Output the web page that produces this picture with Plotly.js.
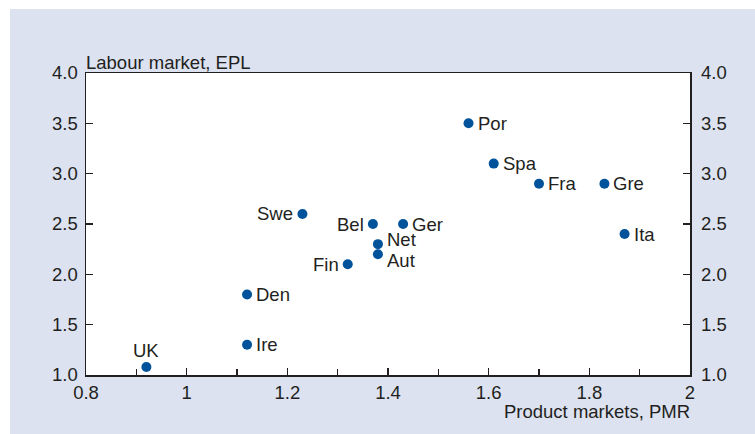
<!DOCTYPE html>
<html>
<head>
<meta charset="utf-8">
<script src="https://cdn.plot.ly/plotly-3.0.1.min.js"></script>
<style>
html,body{margin:0;padding:0;background:#ffffff;width:755px;height:434px;overflow:hidden;}
#chart{position:absolute;left:10px;top:9px;width:745px;height:425px;background:rgb(220,226,240);}
</style>
</head>
<body>
<div id="chart"></div>
<script>
const countries = ["Por","Spa","Fra","Gre","Ita","Swe","Bel","Ger","Net","Aut","Fin","Den","Ire","UK"];
const pmr = [1.56,1.61,1.70,1.83,1.87,1.23,1.37,1.43,1.38,1.38,1.32,1.12,1.12,0.92];
const epl = [3.5,3.1,2.9,2.9,2.4,2.6,2.5,2.5,2.3,2.2,2.1,1.8,1.3,1.08];
// label placement: side (r = right, l = left, t = top) and small vertical nudge (px)
const labelSide = ["r","r","r","r","r","l","l","r","r","r","l","r","r","t"];
const labelNudge = [0,0,0,0,0,0,0,0,5,-6,0,0,0,0];
const xTitle = "Product markets, PMR";
const yTitle = "Labour market, EPL";

const txt = '#231f20';
const fnt = {family:'"Liberation Sans", Arial, sans-serif', size:18.5, color:txt};

const trace = {
  x: pmr, y: epl, mode: 'markers', type: 'scatter',
  marker: {color:'#00539b', size:10},
  cliponaxis:false, hoverinfo:'skip', showlegend:false
};

const labelAnns = countries.map((c, i) => {
  const s = labelSide[i];
  return {
    text: c, x: pmr[i], y: epl[i], xref:'x', yref:'y', showarrow:false, font: fnt, borderpad:0,
    xanchor: s === 'r' ? 'left' : (s === 'l' ? 'right' : 'center'),
    yanchor: 'middle',
    xshift: s === 'r' ? 8 : (s === 'l' ? -8 : 0),
    yshift: s === 't' ? 16 : labelNudge[i]
  };
});

const layout = {
  width:745, height:425,
  paper_bgcolor:'rgba(0,0,0,0)', plot_bgcolor:'#ffffff',
  margin:{l:76, r:65, t:64, b:59},
  font: fnt,
  xaxis:{range:[0.8,2], dtick:0.2, tick0:0.8, ticks:'inside', ticklen:7, tickwidth:1.5, tickcolor:txt,
    showline:true, linecolor:txt, linewidth:1.5, mirror:true, showgrid:false, zeroline:false,
    minor:{dtick:0.1, ticks:'inside', ticklen:6, tickwidth:1.5, tickcolor:txt, showgrid:false},
    tickfont:fnt, fixedrange:true},
  yaxis:{range:[1,4], dtick:0.5, tick0:1, ticks:'inside', ticklen:7, tickwidth:1.5, tickcolor:txt,
    tickformat:'.1f', showline:true, linecolor:txt, linewidth:1.5, mirror:true, showgrid:false, zeroline:false,
    ticklabelstandoff:3, tickfont:fnt, fixedrange:true},
  yaxis2:{range:[1,4], dtick:0.5, tick0:1, ticks:'inside', ticklen:7, tickwidth:1.5, tickcolor:txt,
    tickformat:'.1f', overlaying:'y', side:'right', showline:false, showgrid:false, zeroline:false,
    ticklabelstandoff:10, tickfont:fnt, fixedrange:true},
  annotations:[
    {text:yTitle, xref:'paper', yref:'paper', x:0, y:1, xanchor:'left', yanchor:'bottom', xshift:-2, yshift:-2, showarrow:false, font:fnt},
    {text:xTitle, xref:'paper', yref:'paper', x:1, y:0, xanchor:'right', yanchor:'top', xshift:2, yshift:-24, showarrow:false, font:fnt}
  ].concat(labelAnns)
};

const trace2 = {x:[pmr[0]], y:[epl[0]], yaxis:'y2', mode:'markers', marker:{opacity:0}, hoverinfo:'skip', showlegend:false};

Plotly.newPlot('chart', [trace, trace2], layout, {displayModeBar:false, staticPlot:true});
</script>
</body>
</html>
